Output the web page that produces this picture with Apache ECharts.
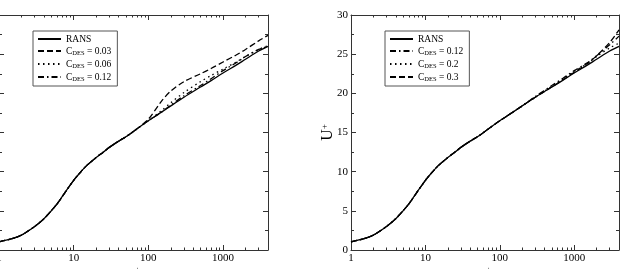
<!DOCTYPE html>
<html>
<head>
<meta charset="utf-8">
<script src="https://cdn.jsdelivr.net/npm/echarts@6/dist/echarts.min.js"></script>
<style>
html, body { margin: 0; padding: 0; background: #fff; }
#main { width: 624px; height: 269px; }
</style>
</head>
<body>
<div id="main"></div>
<script>
// y+ sample points (shared by every curve)
var yPlus = [1, 1.5, 2, 3, 4, 5, 6, 7, 8, 10, 12, 15, 20, 25, 30, 40, 50, 70, 100, 150, 200, 300, 500, 700, 1000, 1500, 2000, 3000, 4000];

// RANS profile, same in both panels
var rans = [1.05, 1.45, 1.9, 3.0, 4.0, 5.0, 5.9, 6.8, 7.6, 8.9, 9.8, 10.8, 11.8, 12.5, 13.1, 13.9, 14.45, 15.45, 16.5, 17.6, 18.4, 19.5, 20.8, 21.65, 22.6, 23.6, 24.35, 25.4, 26.0];

// left panel
var desL003 = [1.05, 1.45, 1.9, 3.0, 4.0, 5.0, 5.9, 6.8, 7.6, 8.9, 9.8, 10.8, 11.8, 12.5, 13.1, 13.9, 14.45, 15.45, 16.7, 19.0, 20.3, 21.5, 22.5, 23.2, 24.0, 24.9, 25.6, 26.7, 27.4];
var desL006 = [1.05, 1.45, 1.9, 3.0, 4.0, 5.0, 5.9, 6.8, 7.6, 8.9, 9.8, 10.8, 11.8, 12.5, 13.1, 13.9, 14.45, 15.45, 16.5, 17.8, 18.8, 20.1, 21.5, 22.3, 23.1, 24.0, 24.7, 25.6, 26.1];
var desL012 = [1.05, 1.45, 1.9, 3.0, 4.0, 5.0, 5.9, 6.8, 7.6, 8.9, 9.8, 10.8, 11.8, 12.5, 13.1, 13.9, 14.45, 15.45, 16.5, 17.6, 18.5, 19.7, 21.0, 21.9, 22.9, 23.9, 24.7, 25.6, 26.0];

// right panel
var desR012 = [1.05, 1.45, 1.9, 3.0, 4.0, 5.0, 5.9, 6.8, 7.6, 8.9, 9.8, 10.8, 11.8, 12.5, 13.1, 13.9, 14.45, 15.45, 16.5, 17.6, 18.4, 19.6, 21.0, 21.9, 22.9, 23.9, 24.8, 26.2, 27.3];
var desR02 = [1.05, 1.45, 1.9, 3.0, 4.0, 5.0, 5.9, 6.8, 7.6, 8.9, 9.8, 10.8, 11.8, 12.5, 13.1, 13.9, 14.45, 15.45, 16.5, 17.6, 18.4, 19.5, 20.9, 21.8, 22.8, 23.8, 24.7, 25.8, 26.4];
var desR03 = [1.05, 1.45, 1.9, 3.0, 4.0, 5.0, 5.9, 6.8, 7.6, 8.9, 9.8, 10.8, 11.8, 12.5, 13.1, 13.9, 14.45, 15.45, 16.5, 17.6, 18.4, 19.5, 20.8, 21.7, 22.7, 23.8, 24.8, 26.5, 28.1];

// tick values
var xMajor = [1, 10, 100, 1000];
var xMinor = [2, 3, 4, 5, 6, 7, 8, 9, 20, 30, 40, 50, 60, 70, 80, 90, 200, 300, 400, 500, 600, 700, 800, 900, 2000, 3000, 4000];
var yTicks = { min: 0, max: 30, interval: 5 };

var serif = 'Liberation Serif';
var frame = '#333';

var styles = {
    solid: { type: 'solid' },
    dash: { type: [6, 3] },
    dot: { type: [1.5, 3.5] },
    dashdot: { type: [6, 3, 1.5, 3] }
};

function pairs(ys) {
    return yPlus.map(function (x, i) { return [x, ys[i]]; });
}

function xAxes(gi) {
    var base = {
        gridIndex: gi, type: 'log', logBase: 10, min: 1, max: 4000,
        splitLine: { show: false }
    };
    return [
        Object.assign({}, base, {
            position: 'bottom',
            axisLine: { show: true, lineStyle: { color: frame, width: 1 } },
            axisTick: { inside: true, length: 5, customValues: xMajor, lineStyle: { color: frame } },
            axisLabel: {
                customValues: xMajor, fontFamily: serif, fontSize: 11, color: '#000', margin: 3,
                formatter: function (v) { return String(Math.round(v)); }
            },
            name: '{y|y}{p|+}', nameLocation: 'middle', nameGap: 15, nameMoveOverlap: false,
            nameTextStyle: {
                rich: {
                    y: { fontFamily: serif, fontSize: 15, color: '#000' },
                    p: { fontFamily: serif, fontSize: 9, color: '#000', verticalAlign: 'top' }
                }
            }
        }),
        Object.assign({}, base, {
            position: 'bottom',
            axisLine: { show: false },
            axisTick: { inside: true, length: 2.5, customValues: xMinor, lineStyle: { color: frame } },
            axisLabel: { show: false }
        }),
        Object.assign({}, base, {
            position: 'top',
            axisLine: { show: true, lineStyle: { color: frame, width: 1 } },
            axisTick: { inside: true, length: 5, customValues: xMajor, lineStyle: { color: frame } },
            axisLabel: { show: false }
        }),
        Object.assign({}, base, {
            position: 'top',
            axisLine: { show: false },
            axisTick: { inside: true, length: 2.5, customValues: xMinor, lineStyle: { color: frame } },
            axisLabel: { show: false }
        })
    ];
}

function yAxes(gi, showLabels) {
    var base = {
        gridIndex: gi, type: 'value', min: yTicks.min, max: yTicks.max, interval: yTicks.interval,
        splitLine: { show: false },
        axisLine: { show: true, lineStyle: { color: frame, width: 1 } },
        axisTick: { inside: true, length: 5, lineStyle: { color: frame } },
        minorTick: { show: true, splitNumber: 2, length: 3, lineStyle: { color: frame } }
    };
    return [
        Object.assign({}, base, {
            position: 'left',
            axisLabel: { show: showLabels, fontFamily: serif, fontSize: 11, color: '#000', margin: 3 },
            name: showLabels ? '{u|U}{p|+}' : '', nameLocation: 'middle', nameGap: 15, nameMoveOverlap: false,
            nameTextStyle: {
                rich: {
                    u: { fontFamily: serif, fontSize: 16, color: '#000' },
                    p: { fontFamily: serif, fontSize: 9, color: '#000', verticalAlign: 'top' }
                }
            }
        }),
        Object.assign({}, base, {
            position: 'right',
            axisLabel: { show: false }
        })
    ];
}

function curve(name, data, style, xi, yi) {
    return {
        name: name, type: 'line', xAxisIndex: xi, yAxisIndex: yi,
        data: pairs(data), symbol: 'none', smooth: 0.3,
        z: name === 'RANS' ? 3 : 2,
        lineStyle: { color: '#000', width: 1.3, type: style.type },
        itemStyle: { color: '#000' }
    };
}

function legendFor(names, left) {
    return {
        data: names, orient: 'vertical', left: left, top: 31,
        itemWidth: 23, itemHeight: 9, itemGap: 2,
        padding: [3, 6, 3, 4],
        borderColor: '#555', borderWidth: 1, borderRadius: 0,
        selectedMode: false,
        itemStyle: { opacity: 0 },
        textStyle: {
            fontFamily: serif, fontSize: 9.5, color: '#000',
            rich: {
                t: { fontFamily: serif, fontSize: 9.5, color: '#000', lineHeight: 12 },
                s: { fontFamily: serif, fontSize: 6.5, color: '#000', verticalAlign: 'bottom', lineHeight: 8 }
            }
        },
        formatter: function (name) {
            if (name === 'RANS') return '{t|RANS}';
            return '{t|C}{s|DES}{t| = ' + name.split('= ')[1] + '}';
        }
    };
}

var myChart = echarts.init(document.getElementById('main'));

var option = {
    backgroundColor: '#fff',
    animation: false,
    grid: [
        { left: -1, top: 15, width: 269, height: 235, outerBoundsMode: 'none', containLabel: false },
        { left: 351, top: 15, width: 268, height: 235, outerBoundsMode: 'none', containLabel: false }
    ],
    xAxis: xAxes(0).concat(xAxes(1)),
    yAxis: yAxes(0, false).concat(yAxes(1, true)),
    legend: [
        legendFor(['RANS', 'CDES = 0.03', 'CDES = 0.06', 'CDES = 0.12'], 33),
        legendFor(['RANS', 'CDES = 0.12', 'CDES = 0.2', 'CDES = 0.3'], 385)
    ],
    series: [
        curve('RANS', rans, styles.solid, 0, 0),
        curve('CDES = 0.03', desL003, styles.dash, 0, 0),
        curve('CDES = 0.06', desL006, styles.dot, 0, 0),
        curve('CDES = 0.12', desL012, styles.dashdot, 0, 0),
        curve('RANS', rans, styles.solid, 4, 2),
        curve('CDES = 0.12', desR012, styles.dashdot, 4, 2),
        curve('CDES = 0.2', desR02, styles.dot, 4, 2),
        curve('CDES = 0.3', desR03, styles.dash, 4, 2)
    ]
};
myChart.setOption(option);
</script>
</body>
</html>
